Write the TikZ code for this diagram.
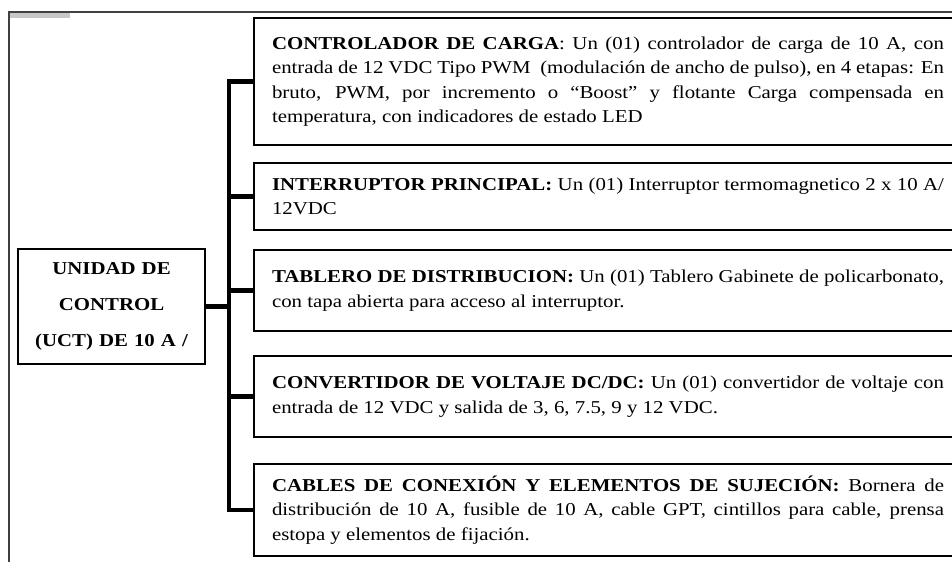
\documentclass[tikz,border=0pt]{standalone}
\usepackage{fontspec}
\setmainfont[FakeStretch=1.15]{Liberation Serif}
\usepackage{tikz}

\begin{document}
\begin{tikzpicture}[x=0.75pt,y=-0.75pt]
		\clip (0,0) rectangle (952,562);
		% marco de la pagina
		\fill[black!22] (10,13) rectangle (70,18);
		\draw[black!75,line width=0.8pt] (9,562) -- (9,12) -- (952,12);
		
		\begin{scope}[every node/.style={draw,line width=1.5pt,anchor=west,
				align=justify,text width=504pt,inner xsep=13.5pt,inner ysep=0pt,
				font=\fontsize{13.6}{18.4}\selectfont}]
			\node[minimum height=95.25pt] (cc) at (253,81.5) {\textbf{CONTROLADOR DE CARGA}: Un (01) controlador de carga de 10 A, con\linebreak entrada de 12 VDC Tipo PWM\ \ (modulación de ancho de pulso), en 4 etapas: En\linebreak bruto, PWM, por incremento o “Boost” y flotante Carga compensada en\linebreak temperatura, con indicadores de estado LED};
			\node[minimum height=50.25pt] (ip) at (253,196.5) {\textbf{INTERRUPTOR PRINCIPAL:} Un (01) Interruptor termomagnetico 2 x 10 A/\linebreak 12VDC};
			\node[minimum height=60.75pt] (td) at (253,290.5) {\textbf{TABLERO DE DISTRIBUCION:} Un (01) Tablero Gabinete de policarbonato,\linebreak con tapa abierta para acceso al interruptor.};
			\node[minimum height=60.75pt] (cv) at (253,396.5) {\textbf{CONVERTIDOR DE VOLTAJE DC/DC:} Un (01) convertidor de voltaje con\linebreak entrada de 12 VDC y salida de 3, 6, 7.5, 9 y 12 VDC.};
			\node[minimum height=69pt] (cab) at (253,510) {\textbf{CABLES DE CONEXIÓN Y ELEMENTOS DE SUJECIÓN:} Bornera de\linebreak distribución de 10 A, fusible de 10 A, cable GPT, cintillos para cable, prensa\linebreak estopa y elementos de fijación.};
		\end{scope}
		
		\node[draw,line width=1.5pt,align=center,text width=130pt,
			minimum width=140.25pt,minimum height=86.25pt,inner sep=0pt,
			font=\fontsize{13.6}{27}\selectfont\bfseries] (uct) at (111.5,306.5)
			{UNIDAD DE\\ CONTROL\\ (UCT) DE 10 A /};
		
		\begin{scope}[line width=3.5pt,line join=miter]
			\coordinate (bx) at (229,0);
			\draw (cc.west) -- (cc.west -| bx) -- (cab.west -| bx) -- (cab.west);
			\foreach \n in {ip,td,cv}
				\draw (\n.west) -- (\n.west -| bx);
			\draw (uct.east) -- (uct.east -| bx);
		\end{scope}
	\end{tikzpicture}
\end{document}
